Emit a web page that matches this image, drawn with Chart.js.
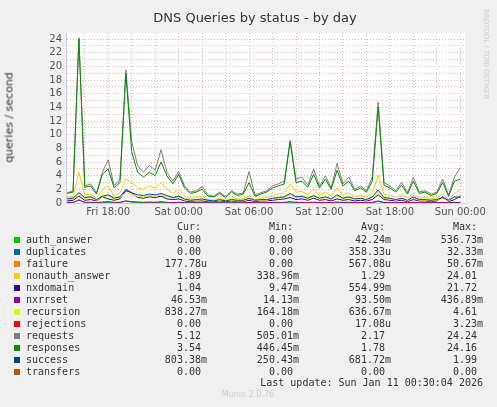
<!DOCTYPE html>
<html><head><meta charset="utf-8">
<script src="https://cdn.jsdelivr.net/npm/chart.js@4"></script>
<style>
body{margin:0;background:#f0f0f0;width:497px;height:407px;overflow:hidden;position:relative;font-family:"DejaVu Sans",sans-serif}
#c{position:absolute;left:0;top:0}
.t{position:absolute;font-family:"DejaVu Sans Mono",monospace;font-size:10px;color:#333;white-space:pre;line-height:12px}
.sw{position:absolute;width:6px;height:6px}
</style></head><body>
<canvas id="c" width="497" height="230"></canvas>
<div style="position:absolute;left:0;width:510px;top:10px;text-align:center;font-size:13px;color:#333">DNS Queries by status - by day</div>
<div style="position:absolute;left:-46px;top:111px;width:110px;text-align:center;transform:rotate(-90deg);font-size:11px;color:#333;font-weight:normal">queries / second</div>
<div style="position:absolute;left:426px;top:50px;width:120px;text-align:center;transform:rotate(90deg);font-size:7px;color:#ccc">RRDTOOL / TOBI OETIKER</div>
<div id="leg"></div>
<div style="position:absolute;left:198px;width:100px;top:390px;text-align:center;font-size:8px;color:#ccc">Munin 2.0.76</div>
<script>
const times=[];for(let i=0;i<68;i++)times.push(14.5+0.5*i);
const requests=[1.5,1.8,24.2,2.5,2.8,1.5,4.5,6.3,2.5,3.5,19.5,9,5.5,4.5,5.5,4.8,7.8,4.5,3.2,4.6,2.5,1.6,1.8,2.4,1.2,1.0,1.6,0.9,1.8,1.3,1.5,4.6,1.2,1.5,1.8,2.5,2.8,3.2,9.2,3.5,3.8,2.6,5.0,2.5,4.0,2.2,5.8,2.8,3.8,2.0,2.5,1.8,3.8,14.8,3.0,2.5,1.8,3.0,1.5,3.8,1.6,1.8,1.3,1.6,3.5,1.2,3.8,5.2];
const responses=[1.4,1.6,24.0,2.3,2.5,1.3,4.2,5.0,2.2,3.0,19.0,7.5,4.5,3.8,4.5,4.0,6.0,4.0,2.8,4.2,2.2,1.4,1.6,2.0,1.0,0.9,1.4,0.8,1.6,1.1,1.3,3.0,1.0,1.3,1.6,2.2,2.5,2.8,9.0,3.0,3.2,2.3,4.2,2.2,3.5,2.0,4.8,2.5,3.2,1.8,2.2,1.6,3.2,14.0,2.6,2.2,1.6,2.6,1.3,3.2,1.4,1.6,1.1,1.4,3.0,1.0,3.2,3.5];
const nonauth_answer=[0.8,0.9,4.5,1.2,1.3,0.7,2.0,2.5,1.0,1.5,3.5,3.0,2.2,2.0,2.5,2.2,3.0,2.0,1.4,2.0,1.0,0.6,0.8,1.0,0.5,0.4,0.7,0.4,0.8,0.6,0.6,1.0,0.5,0.7,0.8,1.1,1.3,1.5,2.8,1.6,1.7,1.2,2.0,1.1,1.6,1.0,2.2,1.2,1.5,0.9,1.1,0.8,1.5,4.0,1.3,1.1,0.8,1.2,0.7,1.5,0.7,0.8,0.6,0.7,1.3,0.5,1.4,1.9];
const success=[0.6,0.7,1.5,0.8,0.9,0.5,1.0,1.2,0.7,0.9,2.0,1.5,1.2,1.1,1.3,1.2,1.4,1.1,0.8,1.0,0.6,0.4,0.5,0.6,0.4,0.3,0.5,0.3,0.5,0.4,0.4,0.7,0.4,0.5,0.5,0.7,0.8,0.9,1.4,0.9,1.0,0.7,1.1,0.7,0.9,0.6,1.2,0.7,0.9,0.6,0.7,0.5,0.9,1.9,0.8,0.7,0.5,0.7,0.4,0.9,0.5,0.5,0.4,0.5,0.8,0.4,0.9,0.8];
const nxdomain=[0.3,0.4,1.0,0.4,0.5,0.3,0.9,0.6,0.4,0.6,1.8,1.5,0.8,0.7,0.9,0.8,1.0,0.6,0.5,0.6,0.3,0.2,0.3,0.3,0.2,0.2,0.3,0.2,0.3,0.2,0.2,0.4,0.2,0.3,0.3,0.4,0.5,0.6,0.8,0.5,0.6,0.4,0.7,0.4,0.5,0.3,0.6,0.4,0.5,0.3,0.4,0.3,0.5,1.2,0.5,0.4,0.3,0.4,0.2,0.5,0.3,0.3,0.2,0.3,0.9,0.2,0.5,1.0];
const recursion=[0.5,0.6,1.2,0.7,0.8,0.4,0.9,1.0,0.6,0.8,1.5,1.2,1.0,0.9,1.1,1.0,1.2,0.9,0.7,0.9,0.5,0.3,0.4,0.5,0.3,0.3,0.4,0.3,0.4,0.3,0.3,0.6,0.3,0.4,0.4,0.6,0.7,0.8,1.2,0.8,0.9,0.6,1.0,0.6,0.8,0.5,1.0,0.6,0.8,0.5,0.6,0.4,0.8,1.5,0.7,0.6,0.4,0.6,0.3,0.8,0.4,0.4,0.3,0.4,0.7,0.3,0.8,0.84];
const nxrrset=[0.08,0.1,0.4,0.1,0.1,0.05,0.15,0.2,0.1,0.1,0.3,0.2,0.15,0.1,0.15,0.1,0.2,0.1,0.08,0.1,0.05,0.03,0.04,0.05,0.03,0.02,0.04,0.02,0.04,0.03,0.03,0.08,0.03,0.04,0.05,0.08,0.1,0.1,0.2,0.1,0.1,0.08,0.12,0.08,0.1,0.06,0.15,0.08,0.1,0.06,0.08,0.05,0.1,0.3,0.08,0.07,0.05,0.07,0.04,0.1,0.05,0.05,0.04,0.05,0.1,0.04,0.1,0.05];
const auth_answer=[0.02,0.03,0.5,0.03,0.04,0.02,0.05,0.08,0.03,0.04,0.3,0.1,0.06,0.05,0.06,0.05,0.08,0.05,0.03,0.04,0.02,0.01,0.02,0.02,0.01,0.01,0.02,0.01,0.02,0.01,0.01,0.04,0.01,0.02,0.02,0.03,0.03,0.04,0.1,0.04,0.04,0.03,0.05,0.03,0.04,0.02,0.06,0.03,0.04,0.02,0.03,0.02,0.04,0.2,0.03,0.03,0.02,0.03,0.01,0.04,0.02,0.02,0.01,0.02,0.04,0.01,0.04,0];
const xTickLabels={18:"Fri 18:00",24:"Sat 00:00",30:"Sat 06:00",36:"Sat 12:00",42:"Sat 18:00",48:"Sun 00:00"};
const names=["auth_answer","duplicates","failure","nonauth_answer","nxdomain","nxrrset","recursion","rejections","requests","responses","success","transfers"];
const colors=["#00cc00","#0066b3","#ff8000","#ffcc00","#330099","#990099","#ccff00","#ff0000","#808080","#008f00","#00487d","#b35a00"];
const curV=["0.00 ","0.00 ","177.78u","1.89 ","1.04 ","46.53m","838.27m","0.00 ","5.12 ","3.54 ","803.38m","0.00 "];
const minV=["0.00 ","0.00 ","0.00 ","338.96m","9.47m","14.13m","164.18m","0.00 ","505.01m","446.45m","250.43m","0.00 "];
const avgV=["42.24m","358.33u","567.08u","1.29 ","554.99m","93.50m","636.67m","17.08u","2.17 ","1.78 ","681.72m","0.00 "];
const maxV=["536.73m","32.33m","50.67m","24.01 ","21.72 ","436.89m","4.61 ","3.23m","24.24 ","24.16 ","1.99 ","0.00 "];
const series={auth_answer,nonauth_answer,nxdomain,nxrrset,recursion,requests,responses,success};

const ds=[];
names.forEach((n,i)=>{ if(series[n]) ds.push({label:n,data:times.map((t,k)=>({x:t,y:series[n][k]})),borderColor:colors[i],borderWidth:1,pointRadius:0,tension:0,fill:false,order:20-i}); });
new Chart(document.getElementById('c'),{type:'line',data:{datasets:ds},
options:{animation:false,responsive:false,layout:{padding:{top:33,right:32,left:0,bottom:0}},
plugins:{legend:{display:false},tooltip:{enabled:false}},
scales:{
x:{type:'linear',min:14.4,max:48.4,afterFit:a=>{a.height=27},
 afterBuildTicks:a=>{const t=[];for(let h=16;h<=48;h+=2)t.push({value:h});a.ticks=t;},
 ticks:{autoSkip:false,maxRotation:0,color:'#555',font:{family:'DejaVu Sans',size:10},callback:v=>xTickLabels[v]||''},
 grid:{color:'rgba(225,160,160,0.8)',drawTicks:false},border:{color:'#ccd',dash:[1,2]}},
y:{min:0,max:24.9,afterFit:a=>{a.width=66},
 afterBuildTicks:a=>{const t=[];for(let v=0;v<=24;v++)t.push({value:v});a.ticks=t;},
 ticks:{autoSkip:false,color:'#555',font:{family:'DejaVu Sans',size:10},padding:4,callback:v=>v%2===0?String(v):''},
 grid:{color:'rgba(225,160,160,0.8)',drawTicks:false},border:{color:'#ccd',dash:[1,2]}}
}},
plugins:[{id:'bg',beforeDraw(c){const a=c.chartArea,x=c.ctx;x.save();x.fillStyle='#fff';x.fillRect(a.left,a.top,a.right-a.left,a.bottom-a.top);x.restore();}}]
});
const leg=document.getElementById('leg');
function put(txt,right,top){const d=document.createElement('div');d.className='t';d.style.right=(497-right)+'px';d.style.top=top+'px';d.textContent=txt;leg.appendChild(d);}
put('Cur: ',207,221);put('Min: ',299,221);put('Avg: ',391,221);put('Max: ',483,221);
names.forEach((n,i)=>{const top=234+i*12;
 const s=document.createElement('div');s.className='sw';s.style.left='14px';s.style.top=(top+3)+'px';s.style.background=colors[i];leg.appendChild(s);
 const l=document.createElement('div');l.className='t';l.style.left='26px';l.style.top=top+'px';l.textContent=n;leg.appendChild(l);
 put(curV[i],207,top);put(minV[i],299,top);put(avgV[i],391,top);put(maxV[i],483,top);});
put('Last update: Sun Jan 11 00:30:04 2026',483,377);
</script></body></html>
